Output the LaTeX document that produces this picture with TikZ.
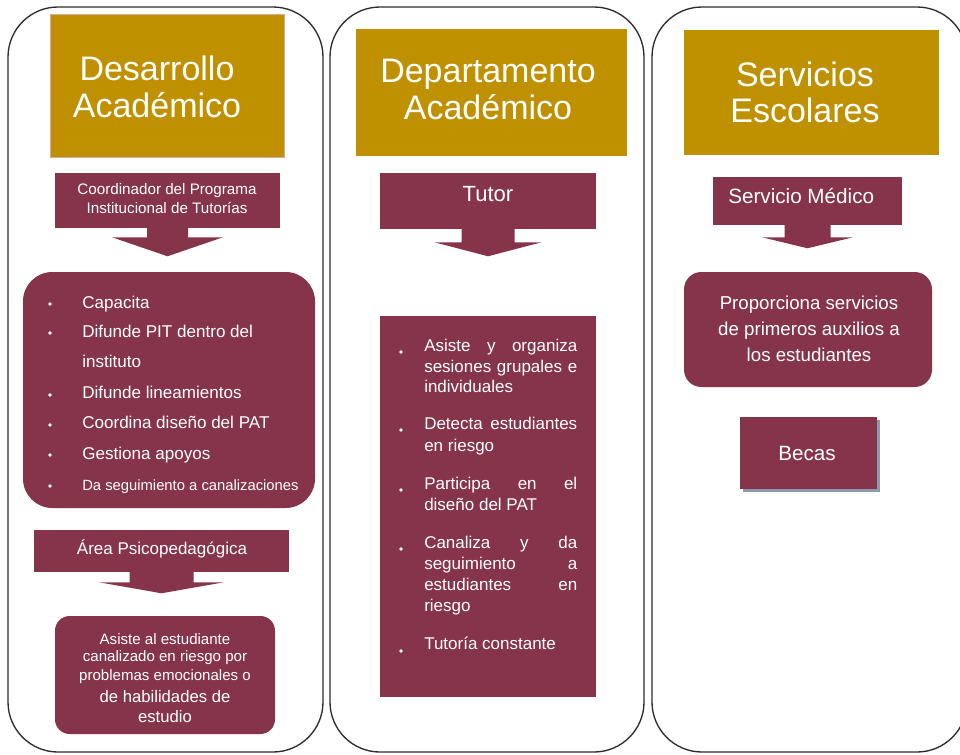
\documentclass[tikz,border=0pt]{standalone}
\usepackage{fontspec}
\setmainfont{Liberation Sans}
\usetikzlibrary{calc,fit}
\definecolor{maroonc}{RGB}{133,52,74}
\definecolor{goldc}{RGB}{191,144,0}
\definecolor{panelc}{RGB}{45,45,45}
\definecolor{shadowc}{RGB}{142,153,173}
\definecolor{goldedge}{RGB}{214,170,160}
\newcommand\blockarr[5]{%
  \fill[maroonc] ($(#1.south)+(-#2,-1)$) -- ($(#1.south)+(-#2,#3)$) -- ($(#1.south)+(-#4,#3)$)
    -- ($(#1.south)+(0,#5)$) -- ($(#1.south)+(#4,#3)$) -- ($(#1.south)+(#2,#3)$)
    -- ($(#1.south)+(#2,-1)$) -- cycle;}
\begin{document}
\begin{tikzpicture}[x=0.75pt,y=-0.75pt,
  panel/.style={draw=panelc,line width=1pt,rounded corners=37.5pt},
  goldbox/.style={fill=goldc,inner sep=0pt},
  redbox/.style={fill=maroonc,inner sep=0pt},
  txt/.style={text=white,inner sep=0pt},
  titletxt/.style={txt,align=center,font=\fontsize{25.5}{27.4}\selectfont},
  listfont/.style={font=\fontsize{12.8}{15}\selectfont},
  midfont/.style={font=\fontsize{12.75}{15}\selectfont},
]
\useasboundingbox (0,0) rectangle (960,754);
\clip (0,0) rectangle (960,754);
\fill[white] (0,0) rectangle (960,754);

% panels
\draw[panel] (8,7) rectangle (323,752);
\draw[panel] (330,7) rectangle (644,752);
\draw[panel] (652,7) rectangle (967,752);

% ===== Column 1 =====
\node[goldbox,draw=goldedge,line width=0.6pt,fit={(50,14) (284,157)}] (g1) {};
\node[titletxt] (g1t) at (157,87) {Desarrollo\\Académico};

\node[redbox,fit={(55,173) (280,228)}] (c1) {};
\node[txt,align=center,font=\fontsize{11.4}{14.25}\selectfont] (c1t) at (167,199) {Coordinador del Programa\\Institucional de Tutorías};
\blockarr{c1}{20.5}{9}{55.5}{28}

\node[redbox,rounded corners=22pt,fit={(23,272) (315,508)}] (l1) {};
\foreach \yy in {304,333,395,425,455,486} \fill[white] (50,\yy) circle (1.4pt);
\node[txt,listfont,anchor=mid west] (l1a) at (82,305) {Capacita};
\node[txt,listfont,anchor=mid west] (l1b) at (82,334) {Difunde PIT dentro del};
\node[txt,listfont,anchor=mid west] (l1c) at (82,364) {instituto};
\node[txt,listfont,anchor=mid west] (l1d) at (82,395) {Difunde lineamientos};
\node[txt,listfont,anchor=mid west] (l1e) at (82,425) {Coordina diseño del PAT};
\node[txt,listfont,anchor=mid west] (l1f) at (82,456) {Gestiona apoyos};
\node[txt,font=\fontsize{11.1}{13}\selectfont,anchor=mid west] (l1g) at (82,487) {Da seguimiento a canalizaciones};

\node[redbox,fit={(34,530) (289,572)}] (p1) {};
\node[txt,font=\fontsize{12.75}{15}\selectfont] (p1t) at (162,549) {Área Psicopedagógica};
\blockarr{p1}{32}{10}{62.5}{21}

\node[redbox,rounded corners=11pt,fit={(55,616) (275,734)}] (b1) {};
\node[txt,font=\fontsize{11.3}{13}\selectfont] (b1a) at (165,639) {Asiste al estudiante};
\node[txt,font=\fontsize{11.3}{13}\selectfont] (b1b) at (165,658) {canalizado en riesgo por};
\node[txt,font=\fontsize{11.3}{13}\selectfont] (b1c) at (165,677) {problemas emocionales o};
\node[txt,font=\fontsize{12.5}{14}\selectfont] (b1d) at (165,697) {de habilidades de};
\node[txt,font=\fontsize{12.5}{14}\selectfont] (b1e) at (165,717) {estudio};

% ===== Column 2 =====
\node[goldbox,fit={(356,29) (627,156)}] (g2) {};
\node[titletxt] (g2t) at (488,89.5) {Departamento\\Académico};

\node[redbox,fit={(380,173) (596,229)}] (t2) {};
\node[txt,font=\fontsize{16.5}{18}\selectfont] (t2t) at (488,194) {Tutor};
\blockarr{t2}{26.5}{13}{53.5}{27}

\node[redbox,fit={(380,316) (596,697)}] (m2) {};
\foreach \yy in {352,430,490,549,651} \fill[white] (401,\yy) circle (1.4pt);
\node[txt,midfont,anchor=mid west] (m2a) at (424,348) {\makebox[114.75pt][s]{Asiste y organiza}};
\node[txt,midfont,anchor=mid west] (m2b) at (424,369) {\makebox[114.75pt][s]{sesiones grupales e}};
\node[txt,midfont,anchor=mid west] (m2c) at (424,389) {individuales};
\node[txt,midfont,anchor=mid west] (m2d) at (424,426) {\makebox[114.75pt][s]{Detecta estudiantes}};
\node[txt,midfont,anchor=mid west] (m2e) at (424,448) {en riesgo};
\node[txt,midfont,anchor=mid west] (m2f) at (424,486) {\makebox[114.75pt][s]{Participa en el}};
\node[txt,midfont,anchor=mid west] (m2g) at (424,507) {diseño del PAT};
\node[txt,midfont,anchor=mid west] (m2h) at (424,545) {\makebox[114.75pt][s]{Canaliza y da}};
\node[txt,midfont,anchor=mid west] (m2i) at (424,566) {\makebox[114.75pt][s]{seguimiento a}};
\node[txt,midfont,anchor=mid west] (m2j) at (424,587) {\makebox[114.75pt][s]{estudiantes en}};
\node[txt,midfont,anchor=mid west] (m2k) at (424,608) {riesgo};
\node[txt,midfont,anchor=mid west] (m2l) at (424,646) {Tutoría constante};

% ===== Column 3 =====
\node[goldbox,fit={(684,30) (939,155)}] (g3) {};
\node[titletxt] (g3t) at (805,92.5) {Servicios\\Escolares};

\node[redbox,fit={(713,177) (902,225)}] (s3) {};
\node[txt,font=\fontsize{15.5}{17}\selectfont,anchor=mid west] (s3t) at (728,200) {Servicio Médico};
\blockarr{s3}{23}{12}{45.5}{23}

\node[redbox,rounded corners=13pt,fit={(684,272) (932,387)}] (pr3) {};
\node[txt,align=center,font=\fontsize{14}{19.5}\selectfont] (pr3t) at (809,329) {Proporciona servicios\\de primeros auxilios a\\los estudiantes};

\fill[shadowc] (743,420) rectangle (880,492);
\node[redbox,fit={(740,417) (877,489)}] (bc3) {};
\node[txt,font=\fontsize{15.5}{17}\selectfont] (bc3t) at (807,453) {Becas};
\end{tikzpicture}
\end{document}
